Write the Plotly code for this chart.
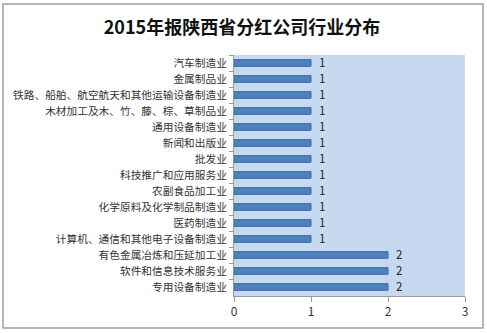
import plotly.graph_objects as go

categories = [
    "汽车制造业",
    "金属制品业",
    "铁路、船舶、航空航天和其他运输设备制造业",
    "木材加工及木、竹、藤、棕、草制品业",
    "通用设备制造业",
    "新闻和出版业",
    "批发业",
    "科技推广和应用服务业",
    "农副食品加工业",
    "化学原料及化学制品制造业",
    "医药制造业",
    "计算机、通信和其他电子设备制造业",
    "有色金属冶炼和压延加工业",
    "软件和信息技术服务业",
    "专用设备制造业",
]
values = [1, 1, 1, 1, 1, 1, 1, 1, 1, 1, 1, 1, 2, 2, 2]
x_ticks = [0, 1, 2, 3]
title_text = "2015年报陕西省分红公司行业分布"

FONT = "Noto Sans CJK SC, Liberation Sans, sans-serif"

fig = go.Figure()
fig.add_trace(go.Bar(
    y=categories,
    x=values,
    orientation="h",
    width=0.42,
    marker=dict(color="#4F81BD", line=dict(color="#3C6AA0", width=1)),
    hoverinfo="skip",
))

for c, v in zip(categories, values):
    fig.add_annotation(
        x=v, y=c, xref="x", yref="y",
        text=str(v), showarrow=False,
        xanchor="left", yanchor="middle", xshift=7, yshift=1,
        height=14, borderpad=0,
        font=dict(family=FONT, size=11.5, color="#222222"),
    )

L, R, T, B = 234, 22, 55, 37
W, H = 487, 333
pw = W - L - R
ph = H - T - B

def px_x(x):
    return (x - L) / pw

def px_y(y):
    return (H - B - y) / ph

fig.update_layout(
    width=W,
    height=H,
    margin=dict(l=L, r=R, t=T, b=B),
    paper_bgcolor="white",
    plot_bgcolor="#C6D9F1",
    showlegend=False,
    title=dict(
        text=title_text,
        x=242 / W,
        xref="container",
        xanchor="center",
        y=1 - 28 / H,
        yanchor="middle",
        font=dict(family=FONT, size=18, color="#111111", weight="bold"),
    ),
    shapes=[dict(
        type="rect", xref="paper", yref="paper",
        x0=px_x(3), x1=px_x(483), y0=px_y(328), y1=px_y(4),
        line=dict(color="#A0A0A0", width=1.5), fillcolor="rgba(0,0,0,0)",
        layer="below",
    )],
)

fig.update_xaxes(
    range=[0, 3],
    tickvals=x_ticks,
    ticktext=[str(t) for t in x_ticks],
    showgrid=False,
    zeroline=False,
    showline=True,
    linecolor="#9A9A9A",
    linewidth=1,
    ticks="outside",
    ticklen=5,
    tickcolor="#9A9A9A",
    tickfont=dict(family=FONT, size=12, color="#333333"),
    fixedrange=True,
)
fig.update_yaxes(
    type="category",
    autorange="reversed",
    showgrid=False,
    showline=True,
    linecolor="#9A9A9A",
    linewidth=1,
    ticks="outside",
    ticklen=4,
    tickcolor="#9A9A9A",
    tickson="boundaries",
    ticklabelstandoff=4,
    tickfont=dict(family=FONT, size=10.7, color="#333333"),
    fixedrange=True,
)

fig.write_html("out.html", config={"displayModeBar": False})
